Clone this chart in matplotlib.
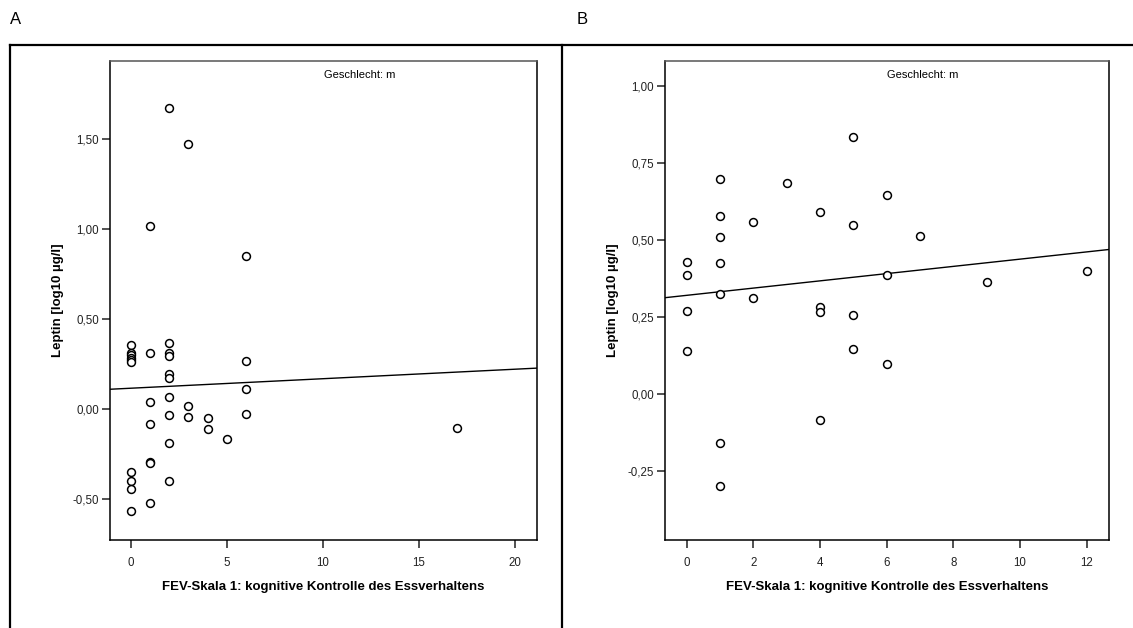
import numpy as np
import matplotlib
matplotlib.use("Agg")
import matplotlib.pyplot as plt
from matplotlib.lines import Line2D
from matplotlib.ticker import FuncFormatter

plt.rcParams['font.family'] = ['Liberation Sans', 'DejaVu Sans']

# panel A: FEV scale 1 vs leptin (male)
xA = [0, 0, 0, 0, 0, 0, 0, 0, 0, 0,
      1, 1, 1, 1, 1, 1, 1,
      2, 2, 2, 2, 2, 2, 2, 2, 2, 2,
      3, 3, 3,
      4, 4,
      5,
      6, 6, 6, 6,
      17]
yA = [0.355, 0.31, 0.30, 0.285, 0.27, 0.26, -0.348, -0.398, -0.444, -0.568,
      1.017, 0.309, 0.039, -0.085, -0.293, -0.302, -0.524,
      1.674, 0.368, 0.309, 0.296, 0.193, 0.174, 0.065, -0.033, -0.187, -0.398,
      1.470, 0.017, -0.046,
      -0.050, -0.109,
      -0.167,
      0.848, 0.265, 0.111, -0.028,
      -0.104]

# panel B
xB = [0, 0, 0, 0,
      1, 1, 1, 1, 1, 1, 1,
      2, 2,
      3,
      4, 4, 4, 4,
      5, 5, 5, 5,
      6, 6, 6,
      7, 9, 12]
yB = [0.427, 0.386, 0.270, 0.139,
      0.697, 0.576, 0.510, 0.424, 0.323, -0.160, -0.299,
      0.557, 0.313,
      0.686,
      0.592, 0.281, 0.267, -0.084,
      0.834, 0.549, 0.255, 0.145,
      0.647, 0.386, 0.098,
      0.513, 0.362, 0.399]

xticksA = [0, 5, 10, 15, 20]
yticksA = [-0.5, 0.0, 0.5, 1.0, 1.5]
xticksB = [0, 2, 4, 6, 8, 10, 12]
yticksB = [-0.25, 0.0, 0.25, 0.5, 0.75, 1.0]

xlabel = "FEV-Skala 1: kognitive Kontrolle des Essverhaltens"
ylabel = "Leptin [log10 µg/l]"
subtitle = "Geschlecht: m"

fig = plt.figure(figsize=(11.33, 6.28), dpi=100)

comma = FuncFormatter(lambda v, p: f"{v:.2f}".replace(".", ","))


def panel(rect, x, y, xlim, ylim, xticks, yticks):
    ax = fig.add_axes(rect)
    ax.scatter(x, y, s=32, facecolors="white", edgecolors="black",
               linewidths=1.1, zorder=3)
    # least squares line over the full x range
    k, d = np.polyfit(x, y, 1)
    xs = np.array(xlim)
    ax.plot(xs, d + k * xs, color="black", lw=1.0, zorder=2)
    ax.set_xlim(*xlim)
    ax.set_ylim(*ylim)
    ax.set_xticks(xticks)
    ax.set_yticks(yticks)
    ax.yaxis.set_major_formatter(comma)
    ax.tick_params(direction="out", length=6, width=1.1, labelsize=8.3,
                   colors="#222222")
    ax.tick_params(axis="x", pad=6)
    ax.tick_params(axis="y", pad=2)
    for s in ax.spines.values():
        s.set_linewidth(1.1)
    ax.spines["top"].set_color("#555555")
    ax.set_xlabel(xlabel, fontsize=9.5, fontweight="bold", labelpad=9)
    ax.set_ylabel(ylabel, fontsize=9.5, fontweight="bold", labelpad=6)
    ax.text(0.5, 0.97, subtitle, transform=ax.transAxes, ha="left",
            va="center", fontsize=8)
    return ax


panel([110 / 1133, 88 / 628, 427 / 1133, 479 / 628], xA, yA,
      (-1.08, 21.14), (-0.728, 1.933), xticksA, yticksA)
panel([665 / 1133, 88 / 628, 444 / 1133, 479 / 628], xB, yB,
      (-0.65, 12.67), (-0.473, 1.080), xticksB, yticksB)

# outer frame lines
fy = 1 - 45 / 628
fig.add_artist(Line2D([10 / 1133, 1], [fy, fy], color="black", lw=1.6))
fig.add_artist(Line2D([10 / 1133, 10 / 1133], [0, fy], color="black", lw=1.6))
fig.add_artist(Line2D([562 / 1133, 562 / 1133], [0, fy], color="black", lw=1.6))

fig.text(10 / 1133, 1 - 20 / 628, "A", fontsize=12, va="center", ha="left")
fig.text(577 / 1133, 1 - 20 / 628, "B", fontsize=12, va="center", ha="left")

fig.savefig("out.png", dpi=100)
